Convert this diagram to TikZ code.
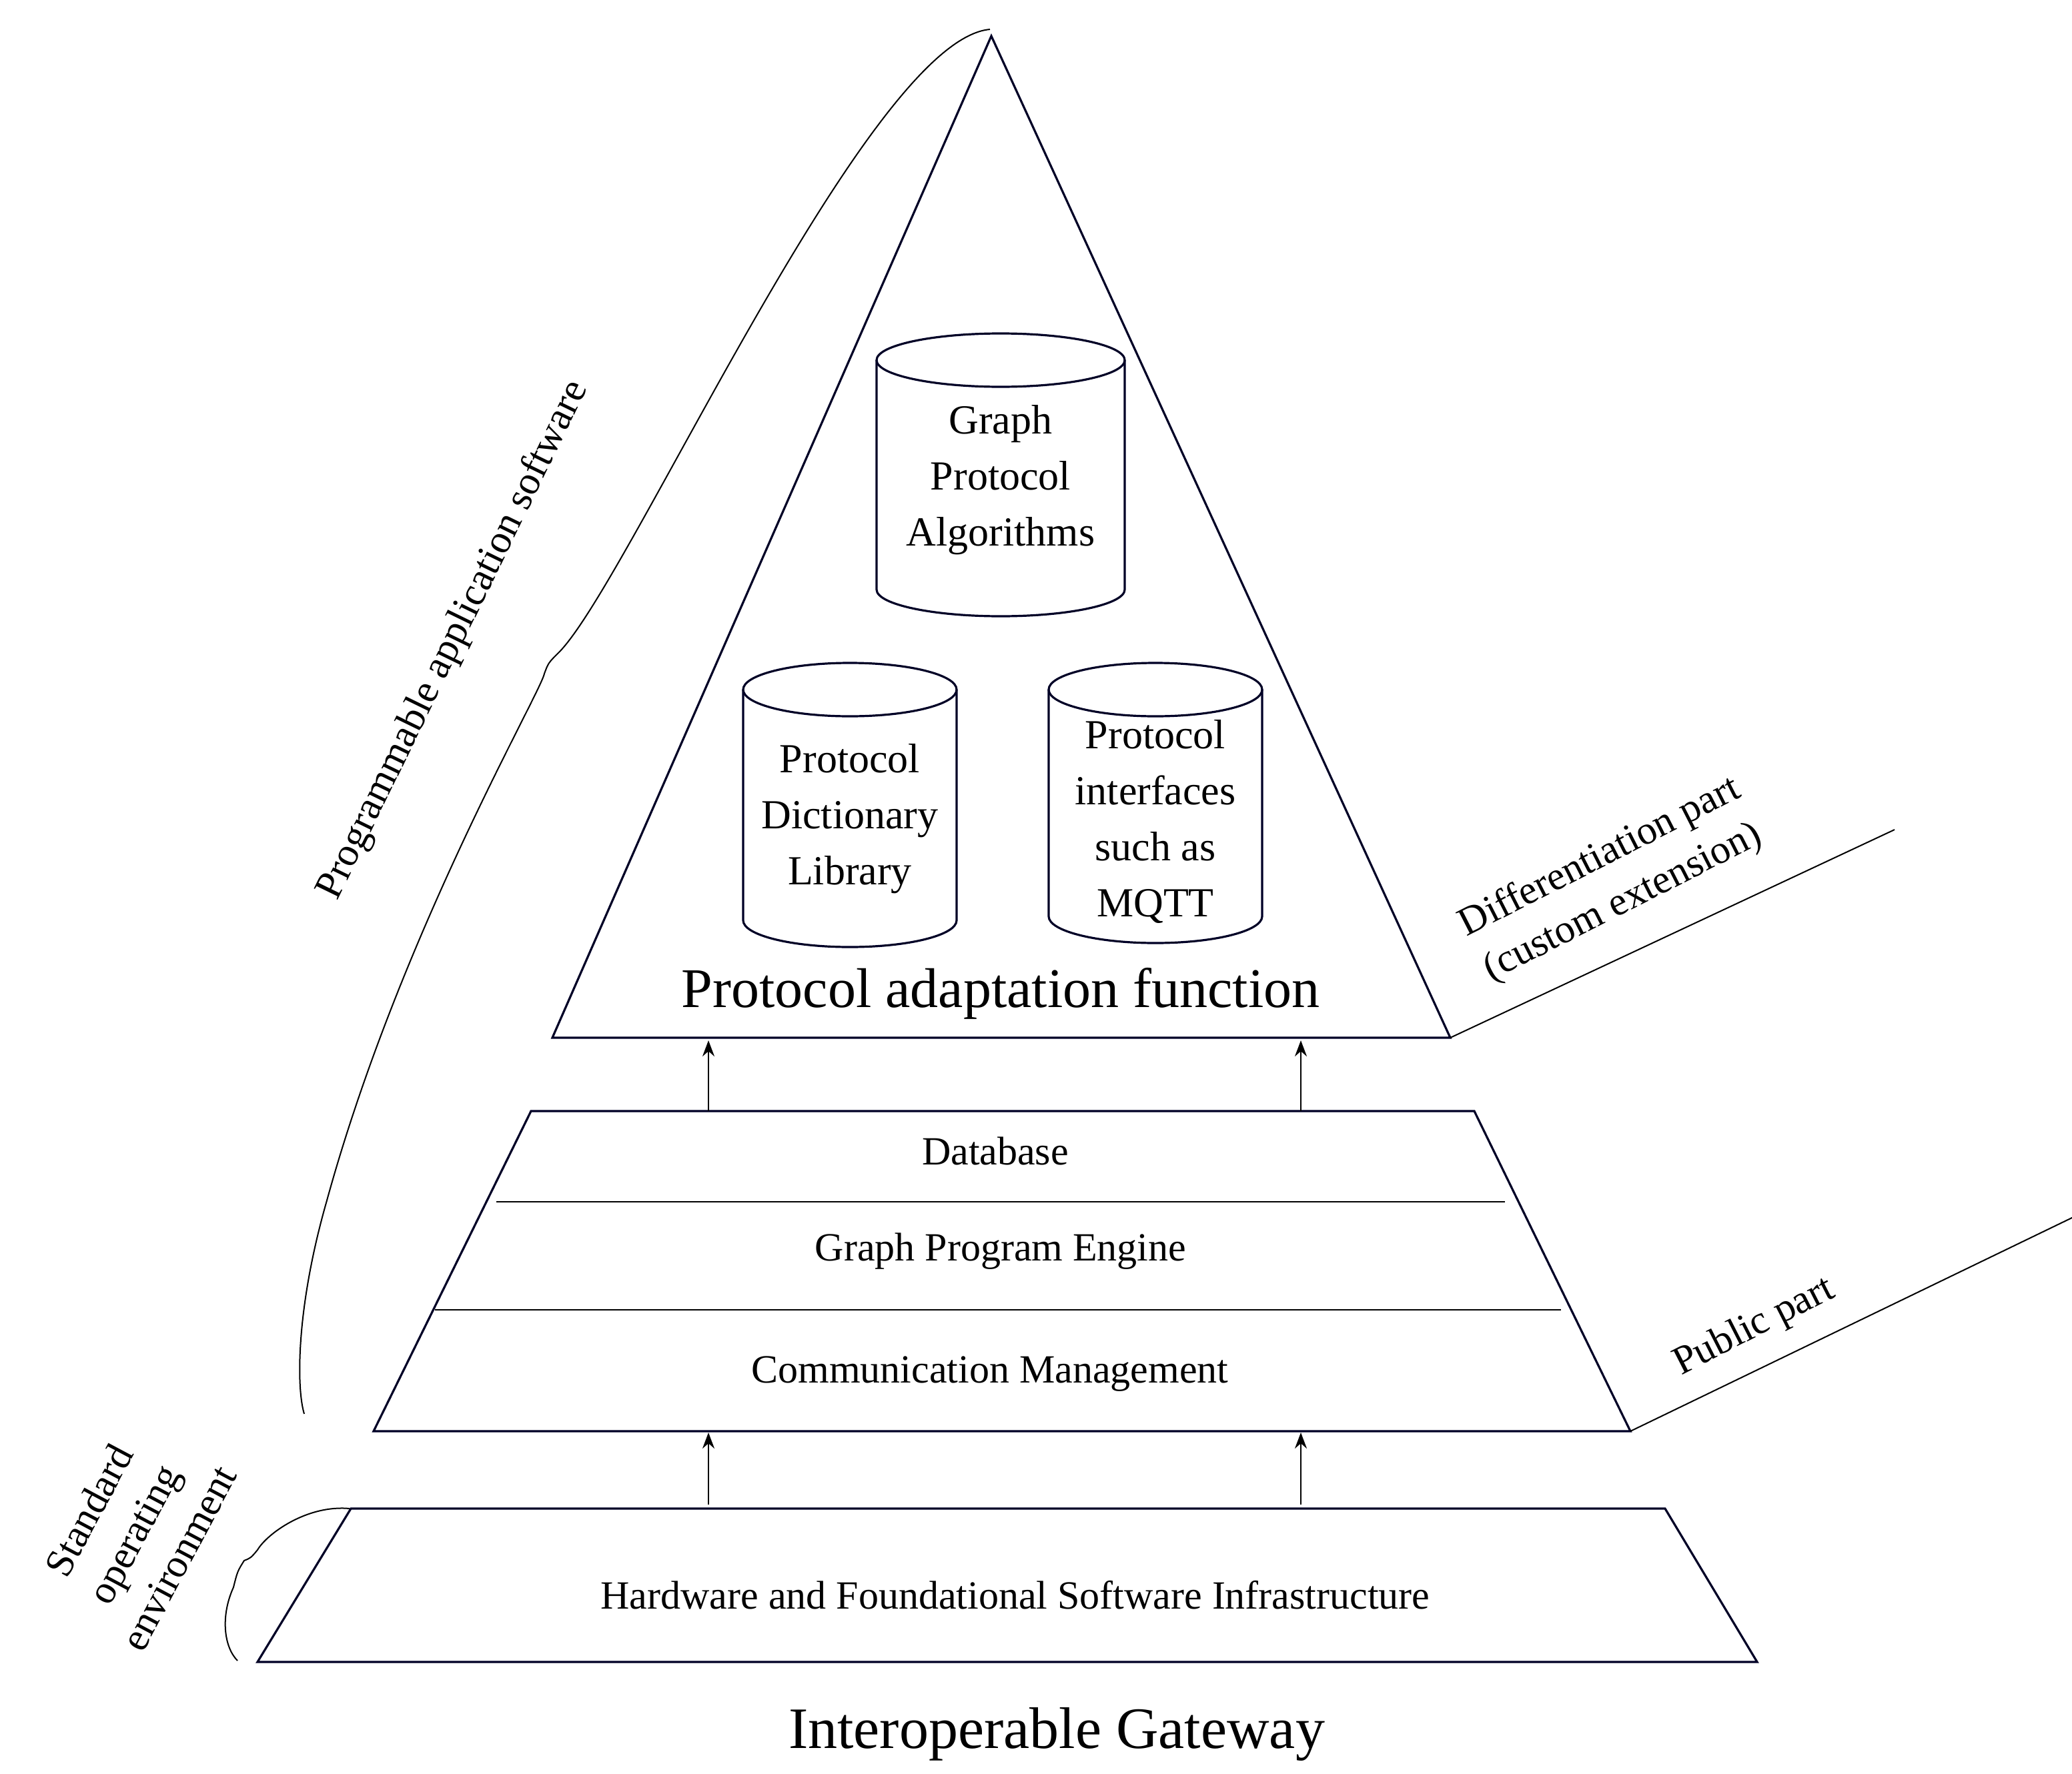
\documentclass[tikz,border=0pt]{standalone}
\usepackage{fontspec}
\usetikzlibrary{arrows.meta}
\setmainfont{Liberation Serif}
\begin{document}
\begin{tikzpicture}[x=1pt,y=-1pt,
  ln/.style={line width=1.6pt,draw=black!85!blue},
  thin/.style={line width=1pt},
  arr/.style={-{Stealth[length=12pt,width=9pt]},line width=1.2pt},
  cyltxt/.style={align=center,font=\fontsize{31}{42}\selectfont},
  lay/.style={font=\fontsize{30}{36}\selectfont},
  side/.style={align=center,font=\fontsize{30}{38}\selectfont}]
\useasboundingbox (0,0) rectangle (1553,1330);
% triangle
\draw[ln] (743,27) -- (1087,778) -- (414,778) -- cycle;
% cylinders
\newcommand{\cyl}[4]{% cx, top, bottom, halfwidth
  \draw[ln,fill=white] (#1-#4,#2) -- (#1-#4,#3) arc[start angle=180,end angle=0,x radius=#4,y radius=20] -- (#1+#4,#2);
  \draw[ln] (#1,#2) ellipse[x radius=#4,y radius=20];}
\cyl{750}{270}{442}{93}
\cyl{637}{517}{690}{80}
\cyl{866}{517}{687}{80}
\node[cyltxt] (gpa) at (750,360) {Graph\\Protocol\\Algorithms};
\node[cyltxt] (pdl) at (637,614) {Protocol\\Dictionary\\Library};
\node[cyltxt] (pis) at (866,616) {Protocol\\interfaces\\such as\\MQTT};
\node[font=\fontsize{42}{48}\selectfont] (paf) at (750,745) {Protocol adaptation function};
% middle trapezoid
\draw[ln] (398,833) -- (1105,833) -- (1222,1073) -- (280,1073) -- cycle;
\draw[thin] (372,901) -- (1128,901);
\draw[thin] (326,982) -- (1170,982);
\node[lay] (db) at (746,863) {Database};
\node[lay] (gpe) at (750,938) {Graph Program Engine};
\node[lay] (cm) at (742,1030) {Communication Management};
% bottom trapezoid
\draw[ln] (263,1131) -- (1248,1131) -- (1317,1246) -- (193,1246) -- cycle;
\node[lay] (hw) at (761,1196) {Hardware and Foundational Software Infrastructure};
\node[font=\fontsize{44}{50}\selectfont] (ig) at (792,1300) {Interoperable Gateway};
% arrows
\coordinate (a1s) at (531,833); \coordinate (a1e) at (531,780);
\coordinate (a2s) at (975,833); \coordinate (a2e) at (975,780);
\coordinate (a3s) at (531,1128); \coordinate (a3e) at (531,1074);
\coordinate (a4s) at (975,1128); \coordinate (a4e) at (975,1074);
\draw[arr] (a1s) -- (a1e); \draw[arr] (a2s) -- (a2e);
\draw[arr] (a3s) -- (a3e); \draw[arr] (a4s) -- (a4e);
% right lines
\coordinate (r1a) at (1087,778); \coordinate (r1b) at (1420,622);
\coordinate (r2a) at (1222,1073); \coordinate (r2b) at (1555,912);
\draw[thin] (r1a) -- (r1b); \draw[thin] (r2a) -- (r2b);
\node[side,rotate=27] (dif) at (1208,660) {Differentiation part\\(custom extension)};
\node[side,rotate=27] (pub) at (1315,995) {Public part};
% braces
\draw[thin] (742,22) .. controls (650,30) and (470,440) .. (418,490) .. controls (411,497) .. (408,505) .. controls (405,520) and (300,700) .. (245,900) .. controls (222,980) and (222,1040) .. (228,1060);
\node[side,rotate=64] (pas) at (340,480) {Programmable application software};
\draw[thin] (262,1131) .. controls (230,1128) and (200,1150) .. (193,1162) .. controls (188,1168) .. (183,1170) .. controls (178,1178) .. (175,1190) .. controls (165,1212) and (168,1235) .. (178,1245);
\node[side,rotate=62] (soe) at (100,1150) {Standard\\operating\\environment};
\end{tikzpicture}
\end{document}
